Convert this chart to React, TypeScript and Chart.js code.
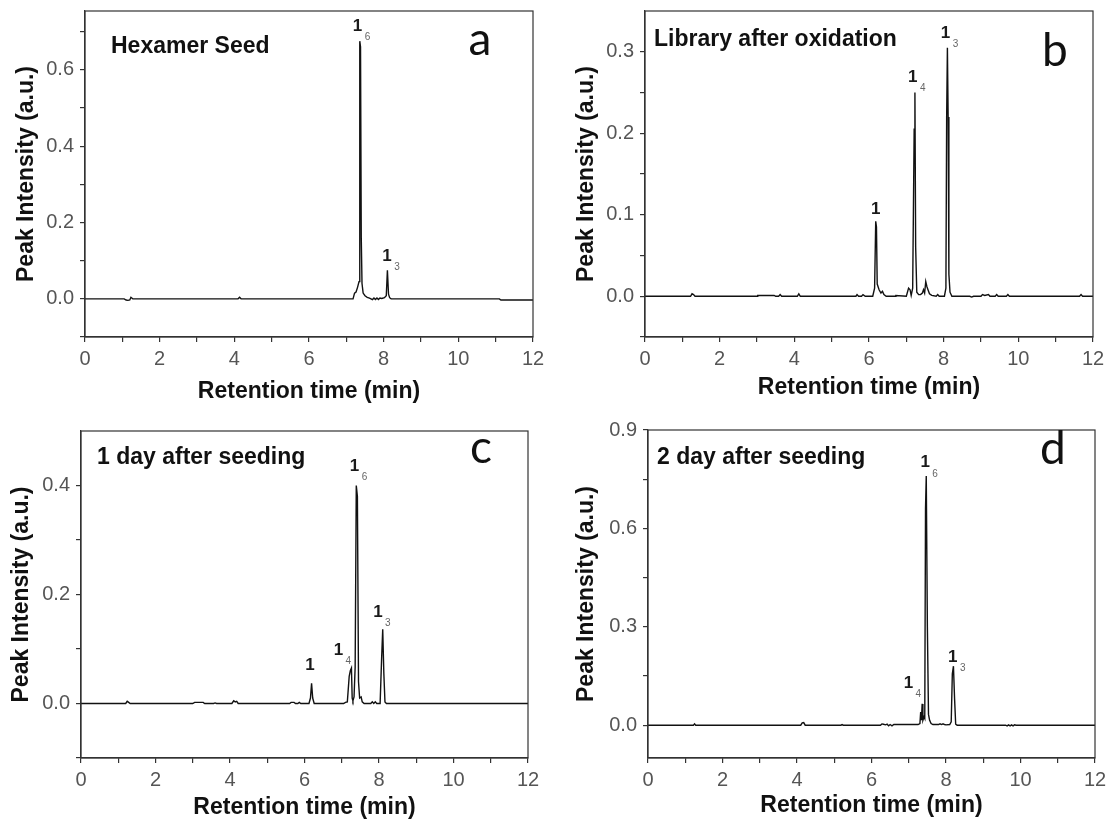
import React, { useEffect, useRef } from 'react';
import { Chart, registerables } from 'chart.js';

Chart.register(...registerables);

// ---------------- DATA ----------------
const xTicks = [0, 1, 2, 3, 4, 5, 6, 7, 8, 9, 10, 11, 12];
const xTickText = ['0', '', '2', '', '4', '', '6', '', '8', '', '10', '', '12'];

// Panel a: Hexamer Seed
const timesA = [0, 1.05, 1.1, 1.15, 1.2, 1.23, 1.28, 4.1, 4.14, 4.18, 7.18, 7.22, 7.26, 7.3, 7.34, 7.36, 7.38, 7.4, 7.42, 7.45, 7.5, 7.56, 7.62, 7.7, 7.74, 7.78, 7.82, 7.86, 7.9, 7.95, 8.02, 8.07, 8.1, 8.13, 8.16, 8.2, 11.1, 11.14, 12];
const intensityA = [0, 0, -0.003, -0.004, -0.003, 0.004, 0, 0, 0.004, 0, 0, 0.015, 0.018, 0.03, 0.045, 0.675, 0.66, 0.16, 0.04, 0.015, 0.008, 0.004, 0.002, -0.002, 0.002, -0.002, 0.002, -0.002, 0.002, 0.001, 0.003, 0.008, 0.075, 0.012, 0.003, 0, 0, -0.003, -0.003];
const yTicksA = [-0.1, 0, 0.1, 0.2, 0.3, 0.4, 0.5, 0.6, 0.7];
const yTickTextA = ['', '0.0', '', '0.2', '', '0.4', '', '0.6', ''];
const labelTimesA = [7.3, 8.09];
const labelValuesA = [0.713, 0.111];
const labelSubsA = ['6', '3'];

// Panel b: Library after oxidation
const timesB = [0, 1.22, 1.26, 1.3, 1.34, 3.0, 3.02, 3.46, 3.5, 3.58, 3.62, 3.66, 4.08, 4.12, 4.16, 5.65, 5.68, 5.72, 5.8, 5.84, 5.9, 6.1, 6.15, 6.18, 6.2, 6.22, 6.27, 6.32, 6.36, 6.4, 6.46, 6.7, 6.72, 7.0, 7.06, 7.1, 7.13, 7.17, 7.21, 7.23, 7.25, 7.28, 7.33, 7.38, 7.43, 7.46, 7.49, 7.52, 7.55, 7.58, 7.62, 7.68, 7.8, 7.84, 7.88, 8.02, 8.06, 8.08, 8.1, 8.12, 8.14, 8.17, 8.22, 8.7, 8.75, 8.8, 9.0, 9.04, 9.1, 9.2, 9.24, 9.38, 9.42, 9.46, 9.68, 9.72, 9.76, 11.64, 11.68, 11.72, 12];
const intensityB = [0, 0, 0.003, 0.002, 0, 0, 0.001, 0.001, 0, 0, 0.002, 0, 0, 0.003, 0, 0, 0.002, 0, 0, 0.002, 0, 0, 0.01, 0.092, 0.085, 0.015, 0.008, 0.004, 0.006, 0.002, 0, 0, 0.001, 0, 0.01, 0.008, 0.001, 0.01, 0.205, 0.25, 0.06, 0.005, 0.002, 0.002, 0.004, 0.008, 0.004, 0.018, 0.012, 0.008, 0.003, 0.001, 0, 0.002, 0, 0, 0.01, 0.22, 0.305, 0.22, 0.027, 0.005, 0, 0, -0.001, 0, 0, 0.002, 0.001, 0.002, 0, 0, 0.002, 0, 0, 0.002, 0, 0, 0.002, 0, 0];
const yTicksB = [-0.05, 0, 0.05, 0.1, 0.15, 0.2, 0.25, 0.3];
const yTickTextB = ['', '0.0', '', '0.1', '', '0.2', '', '0.3'];
const labelTimesB = [6.18, 7.17, 8.05];
const labelValuesB = [0.107, 0.269, 0.3226];
const labelSubsB = ['', '4', '3'];

// Panel c: 1 day after seeding
const timesC = [0, 1.2, 1.24, 1.28, 1.32, 3.0, 3.05, 3.28, 3.32, 3.56, 3.6, 3.64, 4.05, 4.1, 4.14, 4.18, 4.22, 5.6, 5.64, 5.72, 5.76, 5.82, 5.86, 5.9, 6.12, 6.16, 6.19, 6.22, 6.26, 7.05, 7.1, 7.15, 7.2, 7.23, 7.26, 7.28, 7.3, 7.33, 7.36, 7.39, 7.42, 7.45, 7.48, 7.52, 7.55, 7.6, 7.78, 7.82, 7.86, 7.9, 7.94, 8.03, 8.07, 8.1, 8.13, 8.16, 8.2, 12];
const intensityC = [0, 0, 0.004, 0.002, 0, 0, 0.002, 0.002, 0, 0, 0.001, 0, 0, 0.005, 0.003, 0.004, 0, 0, 0.002, 0.002, 0, 0, 0.002, 0, 0, 0.01, 0.037, 0.01, 0, 0, 0.002, 0.003, 0.05, 0.06, 0.065, 0.01, 0.005, 0.012, 0.067, 0.4, 0.38, 0.04, 0.01, 0.012, 0.003, 0, 0, 0.003, 0, 0.003, 0, 0, 0.082, 0.136, 0.055, 0.003, 0, 0];
const yTicksC = [-0.1, 0, 0.1, 0.2, 0.3, 0.4];
const yTickTextC = ['', '0.0', '', '0.2', '', '0.4'];
const labelTimesC = [6.15, 6.91, 7.34, 7.97];
const labelValuesC = [0.0697, 0.098, 0.436, 0.167];
const labelSubsC = ['', '4', '6', '3'];

// Panel d: 2 day after seeding
const timesD = [0, 1.22, 1.25, 1.28, 4.1, 4.14, 4.18, 4.22, 5.18, 5.21, 5.24, 6.24, 6.28, 6.32, 6.38, 6.42, 6.46, 6.5, 6.55, 6.6, 6.66, 6.7, 7.25, 7.3, 7.32, 7.34, 7.36, 7.38, 7.41, 7.43, 7.45, 7.47, 7.5, 7.53, 7.56, 7.6, 7.65, 7.8, 7.84, 7.88, 7.92, 7.96, 8.0, 8.1, 8.14, 8.17, 8.2, 8.23, 8.26, 8.3, 9.6, 9.64, 9.68, 9.72, 9.76, 9.8, 9.84, 9.88, 12];
const intensityD = [0, 0, 0.004, 0, 0, 0.007, 0.008, 0, 0, 0.002, 0, 0, 0.004, 0.003, 0.001, 0.003, -0.002, 0.002, -0.002, 0.002, 0.002, 0.002, 0.002, 0.005, 0.04, 0.015, 0.065, 0.015, 0.025, 0.02, 0.66, 0.76, 0.3, 0.033, 0.015, 0.005, 0.002, 0.002, 0.004, 0.002, 0.004, 0.002, 0.001, 0.002, 0.01, 0.157, 0.18, 0.081, 0.003, 0, 0, -0.002, 0.001, -0.002, 0.001, -0.002, 0.001, 0, 0];
const yTicksD = [0, 0.15, 0.3, 0.45, 0.6, 0.75, 0.9];
const yTickTextD = ['0.0', '', '0.3', '', '0.6', '', '0.9'];
const labelTimesD = [6.99, 7.44, 8.18];
const labelValuesD = [0.129, 0.8, 0.208];
const labelSubsD = ['4', '6', '3'];

const panelTitles = ['Hexamer Seed', 'Library after oxidation', '1 day after seeding', '2 day after seeding'];
const panelLetters = ['a', 'b', 'c', 'd'];

// ---------------- LAYOUT / STYLE ----------------
const W = 555;
const H = 411;
const AXIS = '#333333';
const TICK_FONT = '"Liberation Sans", Arial, sans-serif';

const panels = [
  { left: 0, top: 0, yMin: -0.1, yMax: 0.754, times: timesA, vals: intensityA, yTicks: yTicksA, yText: yTickTextA, lt: labelTimesA, lv: labelValuesA, ls: labelSubsA, area: { l: 85, t: 11, r: 533, b: 337 }, yTitleX: 26.5, xTitleY: 392, titlePos: [111, 47], letterPos: [480, 55] },
  { left: 555, top: 0, yMin: -0.05, yMax: 0.35, times: timesB, vals: intensityB, yTicks: yTicksB, yText: yTickTextB, lt: labelTimesB, lv: labelValuesB, ls: labelSubsB, area: { l: 90, t: 11, r: 538, b: 337 }, yTitleX: 32, xTitleY: 388, titlePos: [99, 40], letterPos: [500, 66] },
  { left: 0, top: 411, yMin: -0.1, yMax: 0.5, times: timesC, vals: intensityC, yTicks: yTicksC, yText: yTickTextC, lt: labelTimesC, lv: labelValuesC, ls: labelSubsC, area: { l: 81, t: 20, r: 528, b: 347 }, yTitleX: 22, xTitleY: 397, titlePos: [97, 47], letterPos: [481, 52] },
  { left: 555, top: 411, yMin: -0.1, yMax: 0.9, times: timesD, vals: intensityD, yTicks: yTicksD, yText: yTickTextD, lt: labelTimesD, lv: labelValuesD, ls: labelSubsD, area: { l: 93, t: 19, r: 540, b: 347 }, yTitleX: 32, xTitleY: 395, titlePos: [102, 47], letterPos: [498, 53] },
];

const framePlugin = {
  id: 'frame',
  afterDatasetsDraw(chart: any) {
    const { ctx, chartArea: a } = chart;
    ctx.save();
    ctx.strokeStyle = AXIS;
    ctx.lineWidth = 1.2;
    ctx.strokeRect(a.left, a.top, a.right - a.left, a.bottom - a.top);
    ctx.restore();
  },
};

function makeAnnotations(idx: number) {
  const p = panels[idx];
  return {
    id: 'annot' + idx,
    afterDraw(chart: any) {
      const { ctx } = chart;
      const xs = chart.scales.x;
      const ys = chart.scales.y;
      ctx.save();
      p.lt.forEach((t: number, i: number) => {
        const px = xs.getPixelForValue(t);
        const py = ys.getPixelForValue(p.lv[i]);
        ctx.font = 'bold 17px ' + TICK_FONT;
        ctx.fillStyle = '#1a1a1a';
        ctx.textAlign = 'center';
        ctx.textBaseline = 'middle';
        ctx.fillText('1', px, py);
        if (p.ls[i]) {
          ctx.font = '10px ' + TICK_FONT;
          ctx.fillStyle = '#666';
          ctx.fillText(p.ls[i], px + 10, py + 11);
        }
      });
      ctx.font = 'bold 23px ' + TICK_FONT;
      ctx.fillStyle = '#111';
      ctx.textAlign = 'left';
      ctx.textBaseline = 'middle';
      ctx.fillText(panelTitles[idx], p.titlePos[0], p.titlePos[1]);
      ctx.font = '46px Lato, "Open Sans", sans-serif';
      ctx.textAlign = 'center';
      ctx.textBaseline = 'alphabetic';
      ctx.fillText(panelLetters[idx], p.letterPos[0], p.letterPos[1]);
      ctx.restore();
    },
  };
}

function zeroPad(s: any) {
  s.paddingLeft = 0;
  s.paddingRight = 0;
  s.paddingTop = 0;
  s.paddingBottom = 0;
}

function Panel({ idx }: { idx: number }) {
  const ref = useRef<HTMLCanvasElement | null>(null);
  useEffect(() => {
    const p = panels[idx];
    const titleFont = { family: TICK_FONT, size: 23, weight: 'bold' as const };
    const tickFont = { family: TICK_FONT, size: 20 };
    const chart = new Chart(ref.current as HTMLCanvasElement, {
      type: 'line',
      data: {
        datasets: [
          {
            data: p.times.map((t: number, i: number) => ({ x: t, y: p.vals[i] })),
            borderColor: '#111',
            borderWidth: 1.4,
            pointRadius: 0,
            tension: 0,
            fill: false,
          },
        ],
      },
      options: {
        animation: false,
        responsive: false,
        devicePixelRatio: 1,
        layout: { padding: { left: 0, top: p.area.t, right: W - p.area.r, bottom: 0 } },
        plugins: { legend: { display: false }, tooltip: { enabled: false } },
        scales: {
          x: {
            type: 'linear',
            min: 0,
            max: 12,
            afterBuildTicks: (s: any) => {
              s.ticks = xTicks.map((v) => ({ value: v }));
            },
            afterFit: (s: any) => {
              s.height = H - p.area.b;
              zeroPad(s);
            },
            ticks: {
              autoSkip: false,
              maxRotation: 0,
              padding: 5,
              color: '#555',
              font: tickFont,
              callback: (_v: any, i: number) => xTickText[i],
            },
            grid: { drawOnChartArea: false, drawTicks: true, tickLength: 5, color: AXIS, lineWidth: 1.2 },
            border: { display: true, color: AXIS, width: 1.2 },
            title: {
              display: true,
              text: 'Retention time (min)',
              color: '#111',
              font: titleFont,
              padding: { top: 0, bottom: H - p.xTitleY - 13.8 },
            },
          },
          y: {
            type: 'linear',
            min: p.yMin,
            max: p.yMax,
            afterBuildTicks: (s: any) => {
              s.ticks = p.yTicks.map((v: number) => ({ value: v }));
            },
            afterFit: (s: any) => {
              s.width = p.area.l;
              zeroPad(s);
            },
            ticks: {
              autoSkip: false,
              padding: 6,
              color: '#555',
              font: tickFont,
              callback: (_v: any, i: number) => p.yText[i],
            },
            grid: { drawOnChartArea: false, drawTicks: true, tickLength: 5, color: AXIS, lineWidth: 1.2 },
            border: { display: true, color: AXIS, width: 1.2 },
            title: {
              display: true,
              text: 'Peak Intensity (a.u.)',
              color: '#111',
              font: titleFont,
              padding: { top: p.yTitleX - 13.8, bottom: 0 },
            },
          },
        },
      },
      plugins: [framePlugin, makeAnnotations(idx)],
    } as any);
    return () => chart.destroy();
  }, [idx]);
  const p = panels[idx];
  return (
    <canvas
      ref={ref}
      width={W}
      height={H}
      style={{ position: 'absolute', left: p.left, top: p.top, width: W, height: H }}
    />
  );
}

export default function App() {
  return (
    <div style={{ position: 'absolute', left: 0, top: 0, width: 1110, height: 822, background: '#fff' }}>
      {[0, 1, 2, 3].map((i) => (
        <Panel key={i} idx={i} />
      ))}
    </div>
  );
}
